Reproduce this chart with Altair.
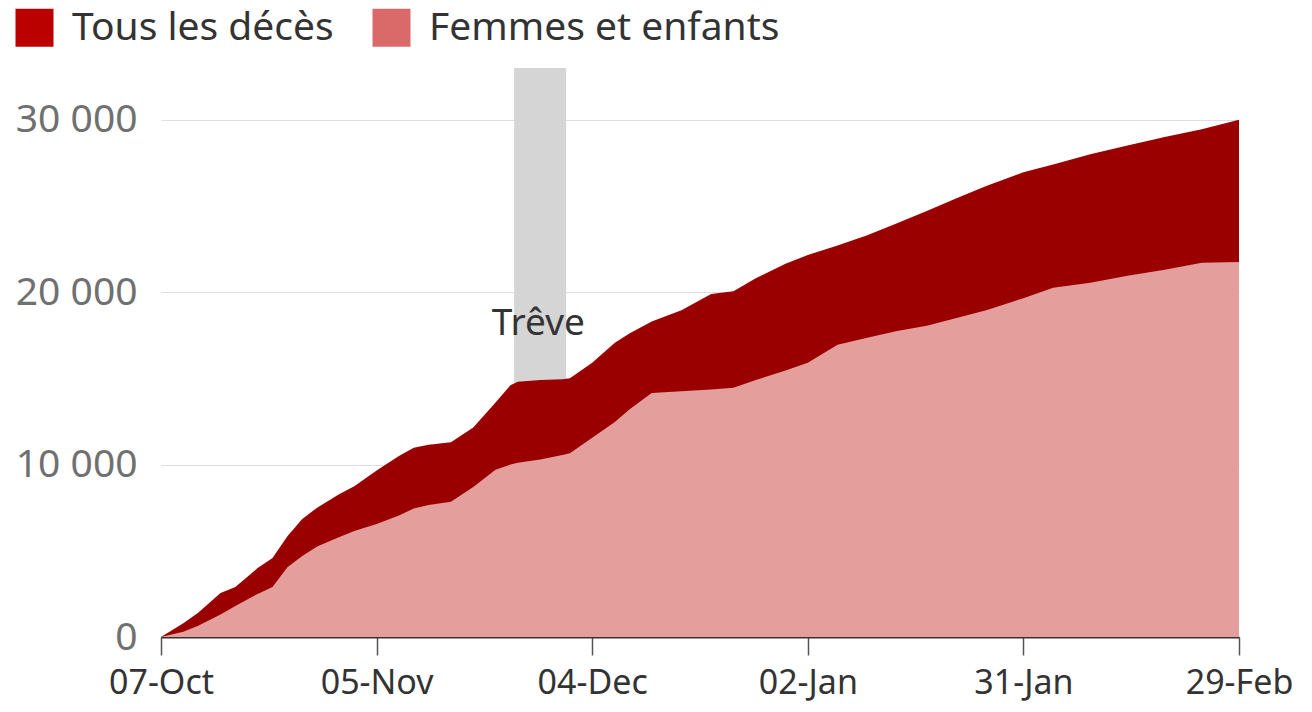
import altair as alt
import pandas as pd

# ---- data ----
dates = [
    "2023-10-07", "2023-10-10", "2023-10-12", "2023-10-15", "2023-10-17", "2023-10-20",
    "2023-10-22", "2023-10-24", "2023-10-26", "2023-10-28", "2023-10-31", "2023-11-02",
    "2023-11-05", "2023-11-08", "2023-11-10", "2023-11-12", "2023-11-15", "2023-11-18",
    "2023-11-21", "2023-11-23", "2023-11-24", "2023-11-27", "2023-11-30", "2023-12-01",
    "2023-12-04", "2023-12-07", "2023-12-09", "2023-12-12", "2023-12-16", "2023-12-20",
    "2023-12-23", "2023-12-26", "2023-12-30", "2024-01-02", "2024-01-06", "2024-01-10",
    "2024-01-14", "2024-01-18", "2024-01-22", "2024-01-26", "2024-01-31", "2024-02-04",
    "2024-02-09", "2024-02-14", "2024-02-19", "2024-02-24", "2024-02-29",
]
tous_les_deces = [
    0, 800, 1400, 2550, 2900, 4000,
    4580, 5840, 6850, 7500, 8300, 8750,
    9650, 10500, 10970, 11150, 11300, 12150,
    13600, 14600, 14800, 14900, 14950, 15000,
    15900, 17050, 17600, 18300, 18950, 19900,
    20050, 20800, 21650, 22150, 22700, 23300,
    24000, 24700, 25450, 26150, 26950, 27400,
    28000, 28500, 29000, 29450, 30000,
]
femmes_et_enfants = [
    0, 300, 650, 1300, 1800, 2500,
    2900, 4050, 4700, 5250, 5800, 6150,
    6550, 7050, 7450, 7650, 7850, 8700,
    9700, 10000, 10100, 10300, 10550, 10650,
    11550, 12450, 13200, 14150, 14250, 14350,
    14450, 14900, 15450, 15900, 16950, 17350,
    17750, 18050, 18500, 18950, 19650, 20250,
    20550, 20950, 21300, 21700, 21750,
]

legend_labels = ["Tous les décès", "Femmes et enfants"]
legend_colors = ["#bb0000", "#da6a6a"]
area_colors = ["#9b0000", "#e49f9c"]

truce_start = ["2023-11-23T12:00:00Z"]
truce_end = ["2023-11-30T12:00:00Z"]
truce_label = ["Trêve"]
truce_label_date = ["2023-11-26T18:00:00Z"]
truce_label_y = [17500]

y_ticks = [0, 10000, 20000, 30000]
y_max = 33000
x_tick_dates = [(2023, 10, 7), (2023, 11, 5), (2023, 12, 4), (2024, 1, 2), (2024, 1, 31), (2024, 2, 29)]

FONT = "Noto Sans"

df = pd.DataFrame({"date": dates, "total": tous_les_deces, "wc": femmes_et_enfants})
band_df = pd.DataFrame({"start": truce_start, "end": truce_end, "y0": [0], "y1": [y_max]})
label_df = pd.DataFrame({"date": truce_label_date, "v": truce_label_y, "txt": truce_label})
legend_df = pd.DataFrame({"serie": legend_labels, "date": [dates[0]] * 2, "v": [0, 0]})

def dt(t):
    return alt.DateTime(year=t[0], month=t[1], date=t[2], utc=True)

x_scale = alt.Scale(type="utc", domain=[dt(x_tick_dates[0]), dt(x_tick_dates[-1])], nice=False)
y_scale = alt.Scale(domain=[0, y_max], nice=False)

x_axis = alt.Axis(
    values=[dt(t) for t in x_tick_dates], format="%d-%b", title=None,
    labelFont=FONT, labelFontSize=34, labelColor="#333333",
    labelBaseline="alphabetic", labelPadding=38,
    domainColor="#333333", domainWidth=2, tickColor="#555555", tickWidth=1.5, tickSize=18,
    grid=False, labelFlush=False, labelOverlap=False,
)
y_axis = alt.Axis(
    values=y_ticks, title=None, domain=False, ticks=False,
    labelExpr="replace(format(datum.value, ',d'), ',', ' ')",
    labelFont=FONT, labelFontSize=39, labelColor="#707070", labelPadding=24,
    grid=True, gridColor="#dddddd", gridWidth=1.2,
)

band = alt.Chart(band_df).mark_rect(color="#d5d5d5").encode(
    x=alt.X("start:T", scale=x_scale, axis=x_axis),
    x2="end:T",
    y=alt.Y("y0:Q", scale=y_scale, axis=y_axis),
    y2="y1:Q",
)

base = alt.Chart(df)
area_total = base.mark_area(color=area_colors[0], interpolate="linear").encode(
    x=alt.X("date:T", scale=x_scale, axis=x_axis),
    y=alt.Y("total:Q", scale=y_scale, axis=y_axis),
)
area_wc = base.mark_area(color=area_colors[1], interpolate="linear").encode(
    x=alt.X("date:T", scale=x_scale, axis=x_axis),
    y=alt.Y("wc:Q", scale=y_scale, axis=y_axis),
)

truce_text = alt.Chart(label_df).mark_text(
    font=FONT, fontSize=37, color="#333333", align="center", baseline="alphabetic"
).encode(
    x=alt.X("date:T", scale=x_scale, axis=x_axis),
    y=alt.Y("v:Q", scale=y_scale, axis=y_axis),
    text="txt:N",
)

legend_layer = alt.Chart(legend_df).mark_square(opacity=0).encode(
    x=alt.X("date:T", scale=x_scale, axis=x_axis),
    y=alt.Y("v:Q", scale=y_scale, axis=y_axis),
    color=alt.Color(
        "serie:N",
        scale=alt.Scale(domain=legend_labels, range=legend_colors),
        legend=alt.Legend(
            title=None, orient="none", legendX=-146, legendY=-60, direction="horizontal",
            symbolType="square", symbolSize=1444, symbolOpacity=1, symbolStrokeWidth=0,
            labelFont=FONT, labelFontSize=39, labelColor="#333333", labelOffset=18,
            columnPadding=38, labelLimit=600, padding=0,
        ),
    ),
)

chart = alt.layer(band, area_total, area_wc, truce_text, legend_layer).properties(
    width=1078, height=569,
    autosize=alt.AutoSizeParams(type="none"),
    padding={"left": 153, "top": 60, "right": 65, "bottom": 67},
).configure(background="white").configure_view(stroke=None)

chart.save("out.html", embed_options={"renderer": "svg", "actions": False})
